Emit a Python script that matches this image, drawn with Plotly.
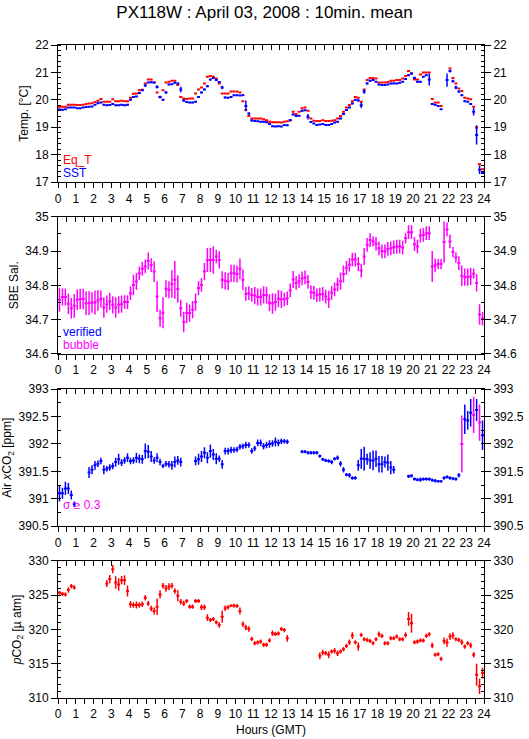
import plotly.graph_objects as go

# 10-minute means (144 per series); None = no data
hours = [(i + 0.5) / 6 for i in range(144)]

sst = [
    19.65, 19.64, 19.66, 19.72, 19.72, 19.72,  19.69, 19.69, 19.72, 19.74, 19.75, 19.76,
    19.82, 19.88, 19.90, 19.82, 19.80, 19.81,  19.85, 19.80, 19.80, 19.82, 19.80, 19.82,
    20.00, 20.10, 20.12, 20.25, 20.35, 20.52,  20.63, 20.64, 20.63, 20.47, 20.10, 20.00,
    20.27, 20.56, 20.57, 20.62, 20.60, 20.38,  19.98, 19.92, 19.90, 19.90, 19.93, 20.10,
    20.27, 20.38, 20.50, 20.74, 20.80, 20.72,  20.65, 20.45, 20.09, 20.08, 20.10, 20.17,
    20.17, 20.16, 20.17, 19.78, 19.50, 19.25,  19.23, 19.22, 19.20, 19.20, 19.18, 19.12,
    19.04, 19.03, 19.04, 19.03, 19.08, 19.07,  19.26, 19.47, 19.41, 19.42, 19.60, 19.62,
    19.38, 19.19, 19.14, 19.08, 19.10, 19.12,  19.08, 19.08, 19.12, 19.17, 19.20, 19.32,
    19.48, 19.63, 19.72, 19.87, 20.00, 19.98,  19.80, 20.30, 20.60, 20.70, 20.72, 20.66,
    20.56, 20.54, 20.54, 20.56, 20.60, 20.60,  20.60, 20.62, 20.66, 20.76, 20.90, 20.96,
    20.80, 20.66, 20.66, 20.84, 20.90, 20.74,  19.85, 19.82, 19.78, 19.66, None, 20.72,
    21.05, 20.68, 20.45, 20.30, 20.17, 19.95,  19.93, 19.85, 19.57, 18.72, 17.45, 17.33,
]
sst_err = [
    .03, .03, .02, .02, .02, .02,  .02, .02, .02, .02, .02, .02,
    .02, .03, .02, .02, .02, .02,  .02, .02, .02, .02, .02, .02,
    .02, .02, .02, .03, .03, .04,  .02, .02, .02, .06, .05, .03,
    .05, .03, .02, .02, .03, .10,  .04, .02, .02, .02, .02, .03,
    .03, .03, .04, .03, .03, .03,  .03, .06, .03, .02, .02, .02,
    .02, .02, .03, .20, .04, .03,  .02, .02, .02, .02, .02, .02,
    .02, .02, .02, .02, .02, .02,  .04, .03, .02, .03, .03, .03,
    .10, .03, .02, .02, .02, .02,  .02, .02, .02, .02, .02, .03,
    .03, .03, .03, .03, .03, .04,  .10, .08, .04, .03, .02, .02,
    .03, .02, .02, .02, .02, .02,  .02, .02, .02, .02, .03, .03,
    .04, .03, .03, .02, .02, .22,  .02, .02, .02, .02, None, .24,
    .05, .05, .06, .04, .03, .03,  .02, .02, .14, .35, .15, .03,
]
eq_t = [
    19.75, 19.75, 19.75, 19.82, 19.82, 19.82,  19.81, 19.81, 19.82, 19.85, 19.87, 19.88,
    19.92, 19.97, 20.03, 19.93, 19.93, 19.93,  20.02, 19.95, 19.95, 19.97, 19.95, 19.95,
    20.08, 20.22, 20.23, 20.35, 20.37, 20.60,  20.74, 20.74, 20.63, 20.27, 20.10, 20.35,
    20.63, 20.66, 20.70, 20.70, 20.54, 20.10,  20.05, 20.03, 20.05, 20.05, 20.23, 20.38,
    20.45, 20.60, 20.84, 20.87, 20.84, 20.78,  20.60, 20.23, 20.23, 20.23, 20.30, 20.30,
    20.30, 20.27, 19.95, 19.63, 19.41, 19.32,  19.32, 19.32, 19.32, 19.29, 19.26, 19.20,
    19.18, 19.18, 19.18, 19.17, 19.20, 19.22,  19.26, 19.57, 19.48, 19.57, 19.69, 19.72,
    19.60, 19.32, 19.24, 19.23, 19.23, 19.26,  19.23, 19.23, 19.24, 19.26, 19.32, 19.41,
    19.57, 19.72, 19.81, 19.95, 20.10, 20.08,  19.93, 20.38, 20.72, 20.80, 20.80, 20.78,
    20.63, 20.63, 20.63, 20.65, 20.70, 20.70,  20.72, 20.72, 20.78, 20.87, 21.05, 20.96,
    20.74, 20.74, 20.92, 21.00, 21.00, 21.00,  20.03, 19.90, 19.90, 19.78, None, None,
    21.14, 20.80, 20.60, 20.41, 20.32, 20.08,  20.05, 20.02, 19.75, 18.99, 17.65, 17.47,
]
eq_t_err = [0.01] * 141 + [0.06, 0.04, 0.01]

sal = [
    34.758, 34.766, 34.766, 34.746, 34.733, 34.740,  34.758, 34.760, 34.760, 34.748, 34.748, 34.750,
    34.750, 34.756, 34.760, 34.735, 34.745, 34.753,  34.743, 34.735, 34.743, 34.745, 34.751, 34.751,
    34.777, 34.801, 34.811, 34.835, 34.848, 34.855,  34.871, 34.859, 34.840, 34.767, 34.704, 34.720,
    34.790, 34.787, 34.804, 34.816, 34.789, 34.733,  34.693, 34.719, 34.719, 34.729, 34.751, 34.792,
    34.801, 34.840, 34.874, 34.874, 34.874, 34.884,  34.874, 34.816, 34.813, 34.811, 34.835, 34.835,
    34.833, 34.848, 34.816, 34.775, 34.777, 34.772,  34.770, 34.766, 34.766, 34.772, 34.771, 34.749,
    34.747, 34.751, 34.761, 34.759, 34.759, 34.762,  34.785, 34.817, 34.807, 34.812, 34.820, 34.823,
    34.810, 34.780, 34.778, 34.771, 34.773, 34.775,  34.767, 34.759, 34.778, 34.788, 34.802, 34.812,
    34.833, 34.851, 34.860, 34.875, 34.875, 34.862,  34.843, 34.884, 34.918, 34.932, 34.928, 34.921,
    34.908, 34.899, 34.899, 34.906, 34.908, 34.911,  34.913, 34.913, 34.910, 34.937, 34.955, 34.955,
    34.920, 34.913, 34.945, 34.947, 34.952, 34.952,  34.855, 34.858, 34.862, 34.862, 34.926, 34.963,
    34.928, 34.897, 34.881, 34.865, 34.828, 34.824,  34.824, 34.826, 34.834, 34.807, 34.715, 34.703,
]
sal_err = [
    .035, .025, .025, .030, .030, .035,  .030, .030, .030, .035, .035, .030,
    .035, .030, .025, .030, .025, .025,  .025, .030, .025, .025, .020, .020,
    .020, .030, .025, .020, .020, .020,  .025, .020, .030, .045, .025, .045,
    .025, .025, .040, .055, .040, .025,  .030, .030, .025, .025, .025, .020,
    .020, .025, .035, .035, .040, .020,  .025, .025, .025, .025, .025, .025,
    .025, .030, .030, .020, .020, .020,  .025, .025, .025, .025, .025, .025,
    .030, .025, .025, .025, .020, .020,  .020, .025, .020, .020, .020, .020,
    .020, .020, .020, .020, .020, .020,  .020, .025, .020, .020, .020, .025,
    .025, .020, .020, .020, .020, .020,  .020, .025, .020, .020, .015, .020,
    .020, .020, .020, .020, .020, .020,  .020, .020, .020, .015, .020, .020,
    .020, .020, .020, .020, .020, .020,  .045, .020, .015, .015, .060, .020,
    .020, .015, .015, .020, .030, .025,  .025, .025, .015, .025, .030, .020,
]

air = [
    391.10, 391.10, 391.19, 391.19, 391.07, 390.90,  None, None, None, None, 391.48, 391.53,
    391.61, 391.64, 391.69, 391.53, 391.55, 391.57,  391.60, 391.67, 391.72, 391.66, 391.70, 391.75,
    391.69, 391.70, 391.75, 391.73, 391.72, 391.87,  391.86, 391.77, 391.70, 391.75, 391.67, 391.60,
    391.64, 391.63, 391.61, 391.67, 391.70, 391.67,  None, None, None, None, 391.69, 391.72,
    391.77, 391.84, 391.75, 391.87, 391.81, 391.73,  391.73, 391.63, 391.87, 391.87, 391.89, 391.89,
    391.90, 391.95, 391.96, 391.98, 391.98, 391.87,  391.92, 392.02, 392.02, 391.96, 391.98, 392.00,
    392.01, 392.04, 392.02, 392.05, 392.05, 392.04,  None, None, None, None, 391.86, 391.86,
    391.84, 391.84, 391.84, 391.84, 391.78, 391.72,  391.70, 391.69, 391.67, 391.73, 391.75, 391.64,
    391.53, 391.44, 391.43, 391.38, 391.38, 391.61,  391.73, 391.73, 391.72, 391.70, 391.70, 391.73,
    391.63, 391.63, 391.67, 391.66, 391.57, 391.53,  None, None, None, None, 391.41, 391.42,
    391.36, 391.35, 391.35, 391.36, 391.36, 391.36,  391.34, 391.33, 391.32, 391.32, 391.38, 391.40,
    391.38, 391.37, 391.36, 391.43, 392.00, 392.45,  392.43, 392.57, 392.53, 392.62, 392.39, 392.16,
]
air_err = [
    .15, .10, .12, .10, .08, .05,  None, None, None, None, .10, .08,
    .08, .06, .06, .08, .05, .06,  .06, .08, .10, .06, .06, .08,
    .06, .06, .09, .08, .08, .14,  .12, .10, .06, .08, .06, .04,
    .05, .06, .08, .10, .08, .08,  None, None, None, None, .08, .10,
    .10, .10, .10, .12, .10, .10,  .06, .08, .06, .06, .06, .05,
    .05, .05, .05, .06, .05, .05,  .05, .06, .06, .06, .06, .07,
    .06, .08, .06, .05, .04, .04,  None, None, None, None, .03, .03,
    .03, .03, .03, .03, .03, .03,  .03, .03, .04, .03, .04, .05,
    .05, .03, .04, .03, .03, .10,  .18, .22, .10, .15, .18, .15,
    .15, .15, .10, .15, .12, .07,  None, None, None, None, .03, .03,
    .03, .03, .04, .03, .03, .03,  .03, .03, .02, .02, .03, .03,
    .03, .03, .03, .04, .52, .27,  .17, .25, .33, .20, .33, .27,
]

pco2 = [
    325.35, 325.16, 325.10, 325.74, 326.32, 326.13,  None, None, None, None, None, None,
    None, None, None, None, 326.70, 327.34,  328.79, 326.85, 326.56, 327.19, 327.19, 325.60,
    323.66, 323.56, 323.56, 323.56, 323.66, 324.63,  323.80, 323.07, 322.69, 323.32, 325.10, 326.37,
    325.98, 326.22, 326.37, 325.60, 324.92, 324.04,  323.80, 324.14, 323.32, 323.32, 324.14, 324.14,
    323.22, 323.22, 321.72, 321.38, 321.53, 321.04,  320.65, 321.86, 323.08, 323.22, 323.46, 323.46,
    323.41, 322.69, 320.75, 320.27, 320.07, 318.62,  317.99, 318.09, 318.23, 317.75, 317.75, 318.40,
    319.44, 319.35, 319.40, 320.07, 319.90, 318.70,  None, None, None, None, None, None,
    None, None, None, None, 316.15, 316.63,  316.54, 316.30, 316.78, 316.88, 316.54, 316.78,
    317.12, 317.60, 318.14, 319.10, 318.14, 317.50,  319.20, 318.57, 318.47, 318.33, 317.99, 318.57,
    319.30, 319.06, 317.99, 317.99, 318.72, 318.72,  318.96, 318.57, 318.57, 319.20, 321.53, 320.90,
    318.14, 318.23, 318.38, 318.38, 319.06, 319.30,  317.65, 316.30, 316.39, 315.71, 318.33, 318.09,
    318.96, 319.10, 318.57, 318.47, 318.14, 317.50,  317.99, 317.65, 316.30, 313.39, 311.70, 313.63,
]
pco2_err = [
    .3, .3, .3, .4, .3, .3,  None, None, None, None, None, None,
    None, None, None, None, .5, .6,  .6, .9, .9, .6, .7, .8,
    .5, .4, .5, .4, .4, .4,  .4, .4, .5, 1.2, .6, .4,
    .5, .5, .4, .4, .8, .4,  .4, .3, .3, .3, .3, .3,
    .4, .4, .5, .3, .3, .3,  .4, .9, .4, .3, .2, .3,
    .3, .5, .4, .4, .4, .3,  .3, .3, .3, .3, .3, .3,
    .4, .3, .3, .3, .3, .5,  None, None, None, None, None, None,
    None, None, None, None, .5, .4,  .3, .5, .3, .4, .4, .3,
    .3, .3, .4, .5, .3, .6,  .3, .3, .3, .3, .3, .3,
    .4, .3, .3, .3, .3, .3,  .3, .3, .3, .4, 1.0, 1.4,
    .3, .3, .3, .3, .3, .3,  .4, .3, .3, .3, .5, .6,
    .5, .5, .3, .3, .4, .3,  .3, .4, .4, 1.6, 1.1, .8,
]

RED, BLUE, MAG = "#ff0000", "#0000ff", "#ff00ff"
FONT = "Liberation Sans, Arial, sans-serif"

# air xCO2 flagged magenta when sigma >= 0.3
air_ok = [v if (e is not None and e < 0.3) else None for v, e in zip(air, air_err)]
air_hi = [v if (e is not None and e >= 0.3) else None for v, e in zip(air, air_err)]


def ax(letter, k):
    return letter if k == 1 else f"{letter}{k}"


def marks(y, err, color, k):
    return go.Scatter(
        x=hours, y=y, mode="markers", xaxis=ax("x", k), yaxis=ax("y", k),
        marker=dict(size=1, color=color),
        error_x=dict(type="constant", value=1 / 12, width=0, thickness=2, color=color),
        error_y=dict(type="data", array=err, width=0, thickness=1.5, color=color),
        showlegend=False, hoverinfo="skip",
    )


fig = go.Figure()
fig.add_trace(marks(eq_t, eq_t_err, RED, 1))
fig.add_trace(marks(sst, sst_err, BLUE, 1))
fig.add_trace(marks(sal, sal_err, MAG, 2))
fig.add_trace(marks(air_ok, air_err, BLUE, 3))
fig.add_trace(marks(air_hi, air_err, MAG, 3))
fig.add_trace(marks(pco2, pco2_err, RED, 4))

panels = [
    ([0.790, 1.0], [17, 22], 1, 0.2, "Temp. [°C]"),
    ([0.527, 0.737], [34.6, 35], 0.1, 0.05, "SBE Sal."),
    ([0.263, 0.473], [390.5, 393], 0.5, 0.25, "Air <i>x</i>CO<sub>2</sub> [ppm]"),
    ([0.0, 0.210], [310, 330], 5, 1, "<i>p</i>CO<sub>2</sub> [µ atm]"),
]

tickfont = dict(family=FONT, size=12, color="black")
common = dict(showline=True, linecolor="black", linewidth=1, showgrid=False,
              zeroline=False, tickcolor="black", tickfont=tickfont, automargin=False)
layout = {}
for k, (dom, yr, dt, mdt, title) in enumerate(panels, start=1):
    layout[f"xaxis{k}"] = dict(
        domain=[0, 1], anchor=ax("y", k), range=[0, 24], tick0=0, dtick=1,
        ticks="outside", ticklen=5,
        minor=dict(dtick=0.5, ticks="outside", ticklen=5, tickcolor="black", showgrid=False),
        **common)
    layout[f"xaxis{k + 4}"] = dict(
        overlaying=ax("x", k), side="top", anchor=ax("y", k), range=[0, 24], tick0=0, dtick=0.5,
        ticks="inside", ticklen=5, showticklabels=False, **common)
    ymin = dict(dtick=mdt, ticks="inside", ticklen=3, tickcolor="black", showgrid=False)
    layout[f"yaxis{k}"] = dict(
        domain=dom, anchor=ax("x", k), range=yr, dtick=dt, ticks="outside", ticklen=6,
        minor=ymin, title=dict(text=title, font=dict(family=FONT, size=12, color="black"), standoff=4),
        **common)
    layout[f"yaxis{k + 4}"] = dict(
        overlaying=ax("y", k), side="right", anchor=ax("x", k), range=yr, dtick=dt,
        ticks="outside", ticklen=6, minor=ymin, **common)
    fig.add_trace(go.Scatter(x=[None], y=[None], xaxis=f"x{k + 4}", yaxis=f"y{k + 4}",
                             showlegend=False, hoverinfo="skip"))

fig.update_layout(**layout)

labels = [
    (1, 0.16, "Eq_T", RED), (1, 0.066, "SST", BLUE),
    (2, 0.16, "verified", BLUE), (2, 0.066, "bubble", MAG),
    (3, 0.153, "σ ≥ 0.3", MAG),
]
for k, yy, txt, col in labels:
    fig.add_annotation(text=txt, xref=ax("x", k) + " domain", yref=ax("y", k) + " domain",
                       x=0.008, y=yy, xanchor="left", yanchor="middle", showarrow=False,
                       font=dict(family=FONT, size=12, color=col))

fig.add_annotation(text="Hours (GMT)", xref="paper", yref="paper", x=0.5, y=-0.049,
                   xanchor="center", yanchor="middle", showarrow=False,
                   font=dict(family=FONT, size=12, color="black"))

fig.update_layout(
    width=529, height=739,
    margin=dict(l=58, r=45, t=45, b=41),
    paper_bgcolor="white", plot_bgcolor="white",
    title=dict(text="PX118W : April 03, 2008 : 10min. mean", x=0.5, xanchor="center",
               y=1 - 12 / 739, yanchor="middle",
               font=dict(family=FONT, size=17, color="black")),
)

# drop the browser's default 8px body margin so the figure sits at the page corner
fig.write_html("out.html", config={"displayModeBar": False},
               post_script="document.body.style.margin='0px';")
